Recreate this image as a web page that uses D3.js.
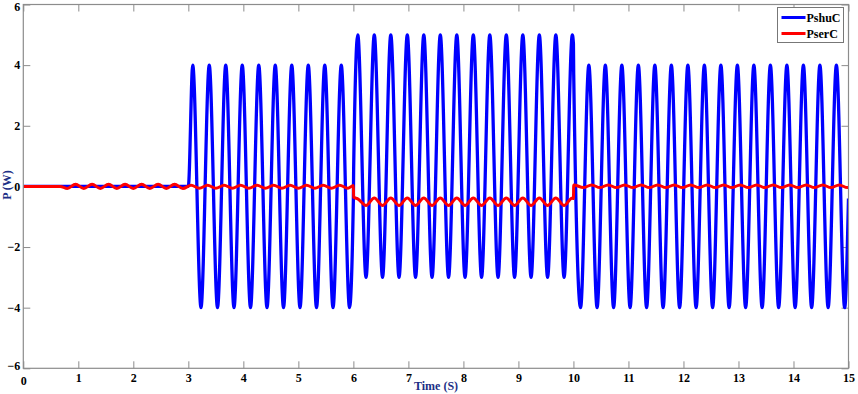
<!DOCTYPE html>
<html>
<head>
<meta charset="utf-8">
<script src="https://cdn.jsdelivr.net/npm/d3@7"></script>
<style>
body { margin: 0; background: #fff; }
svg text { font-family: "Liberation Serif", "Times New Roman", serif; font-weight: bold; }
</style>
</head>
<body>
<div class="chart-container"></div>
<script>
// sizes of the whole picture
const svgWidth = 858;
const svgHeight = 394;
const margin = { top: 4.5, right: 9.5, bottom: 25.7, left: 23.3 };
const width = svgWidth - margin.left - margin.right;
const height = svgHeight - margin.top - margin.bottom;

// series names and colours, in legend order
const seriesNames = ["PshuC", "PserC"];
const seriesColors = ["#0000ff", "#ff0000"];

// tick values of both axes
const xTicks = [0, 1, 2, 3, 4, 5, 6, 7, 8, 9, 10, 11, 12, 13, 14, 15];
const yTicks = [-6, -4, -2, 0, 2, 4, 6];

// PshuC: [time, value] at the start, each crest / trough and each step
const shuPoints = [
    [0, 0], [3, 0],
    [3.08, 4], [3.23, -4], [3.38, 4], [3.53, -4], [3.68, 4], [3.83, -4], [3.98, 4], [4.13, -4], [4.28, 4], [4.43, -4],
    [4.58, 4], [4.73, -4], [4.88, 4], [5.03, -4], [5.18, 4], [5.33, -4], [5.48, 4], [5.63, -4], [5.78, 4], [5.93, -4],
    [6, -0.4], [6.005, 0.6],
    [6.08, 5], [6.23, -3], [6.38, 5], [6.53, -3], [6.68, 5], [6.83, -3], [6.98, 5], [7.13, -3], [7.28, 5], [7.43, -3],
    [7.58, 5], [7.73, -3], [7.88, 5], [8.03, -3], [8.18, 5], [8.33, -3], [8.48, 5], [8.63, -3], [8.78, 5], [8.93, -3],
    [9.08, 5], [9.23, -3], [9.38, 5], [9.53, -3], [9.68, 5], [9.83, -3], [9.98, 5],
    [10, 4.7], [10.005, 3.7],
    [10.13, -4], [10.28, 4], [10.43, -4], [10.58, 4], [10.73, -4], [10.88, 4], [11.03, -4], [11.18, 4], [11.33, -4], [11.48, 4],
    [11.63, -4], [11.78, 4], [11.93, -4], [12.08, 4], [12.23, -4], [12.38, 4], [12.53, -4], [12.68, 4], [12.83, -4], [12.98, 4],
    [13.13, -4], [13.28, 4], [13.43, -4], [13.58, 4], [13.73, -4], [13.88, 4], [14.03, -4], [14.18, 4], [14.33, -4], [14.48, 4],
    [14.63, -4], [14.78, 4], [14.93, -4], [15, -0.4]
];

// PserC, same way
const serPoints = [
    [0, 0], [0.67, 0],
    [0.8, -0.07], [0.95, 0.07], [1.1, -0.07], [1.25, 0.07], [1.4, -0.07], [1.55, 0.07], [1.7, -0.07], [1.85, 0.07],
    [2, -0.07], [2.15, 0.07], [2.3, -0.07], [2.45, 0.07], [2.6, -0.07], [2.75, 0.07], [2.9, -0.07],
    [3.05, 0.04], [3.2, -0.06], [3.35, 0.04], [3.5, -0.06], [3.65, 0.04], [3.8, -0.06], [3.95, 0.04], [4.1, -0.06],
    [4.25, 0.04], [4.4, -0.06], [4.55, 0.04], [4.7, -0.06], [4.85, 0.04], [5, -0.06], [5.15, 0.04], [5.3, -0.06],
    [5.45, 0.04], [5.6, -0.06], [5.75, 0.04], [5.9, -0.06],
    [6, 0.03], [6.005, -0.36], [6.08, -0.41],
    [6.23, -0.63], [6.38, -0.38], [6.53, -0.63], [6.68, -0.38], [6.83, -0.63], [6.98, -0.38], [7.13, -0.63], [7.28, -0.38],
    [7.43, -0.63], [7.58, -0.38], [7.73, -0.63], [7.88, -0.38], [8.03, -0.63], [8.18, -0.38], [8.33, -0.63], [8.48, -0.38],
    [8.63, -0.63], [8.78, -0.38], [8.93, -0.63], [9.08, -0.38], [9.23, -0.63], [9.38, -0.38], [9.53, -0.63], [9.68, -0.38],
    [9.83, -0.63], [9.98, -0.38],
    [10, -0.4], [10.005, 0.05],
    [10.18, -0.04], [10.33, 0.05], [10.48, -0.04], [10.63, 0.05], [10.78, -0.04], [10.93, 0.05], [11.08, -0.04], [11.23, 0.05],
    [11.38, -0.04], [11.53, 0.05], [11.68, -0.04], [11.83, 0.05], [11.98, -0.04], [12.13, 0.05], [12.28, -0.04], [12.43, 0.05],
    [12.58, -0.04], [12.73, 0.05], [12.88, -0.04], [13.03, 0.05], [13.18, -0.04], [13.33, 0.05], [13.48, -0.04], [13.63, 0.05],
    [13.78, -0.04], [13.93, 0.05], [14.08, -0.04], [14.23, 0.05], [14.38, -0.04], [14.53, 0.05], [14.68, -0.04], [14.83, 0.05],
    [14.98, -0.04], [15, -0.03]
];

const allSeries = [shuPoints, serPoints];

const svg = d3.select(".chart-container")
    .append("svg")
    .attr("width", svgWidth)
    .attr("height", svgHeight);

const g = svg.append("g")
    .attr("transform", `translate(${margin.left},${margin.top})`);

// scales
const x = d3.scaleLinear()
    .domain([0, 15])
    .range([0, width]);

const y = d3.scaleLinear()
    .domain([-6, 6])
    .range([height, 0]);

// clip so the curves stay inside the box
g.append("clipPath")
    .attr("id", "plotClip")
    .append("rect")
    .attr("width", width)
    .attr("height", height);

// axes, ticks point inwards like matlab
const axisColor = "#8c8c8c";

const xAxis = g.append("g")
    .attr("transform", `translate(0,${height})`)
    .call(d3.axisBottom(x).tickValues(xTicks).tickSize(-7).tickPadding(5.5).tickFormat(d3.format("d")));

const xAxisTop = g.append("g")
    .call(d3.axisTop(x).tickValues(xTicks).tickSize(-7).tickFormat(""));

const yAxis = g.append("g")
    .call(d3.axisLeft(y).tickValues(yTicks).tickSize(-7).tickPadding(3).tickFormat(d3.format("d")));

const yAxisRight = g.append("g")
    .attr("transform", `translate(${width},0)`)
    .call(d3.axisRight(y).tickValues(yTicks).tickSize(-7).tickFormat(""));

[xAxis, xAxisTop, yAxis, yAxisRight].forEach(function (a) {
    a.select(".domain").remove();
    a.selectAll(".tick line").attr("stroke", axisColor);
    a.selectAll(".tick text")
        .attr("fill", "#000")
        .style("font-size", "12px")
        .style("font-family", "'Liberation Serif', serif")
        .style("font-weight", "bold");
});

// end labels nudged like the original: "6" a bit down, "-6" up, x "0" down
yAxis.selectAll(".tick text").filter(d => d === 6).attr("dy", "0.5em");
yAxis.selectAll(".tick text").filter(d => d === -6).attr("dy", "0.1em");
xAxis.selectAll(".tick text").filter(d => d === 0).attr("dy", "0.95em");

// the lines
const line = d3.line()
    .x(d => x(d[0]))
    .y(d => y(d[1]))
    .curve(d3.curveMonotoneX);

g.append("g")
    .attr("clip-path", "url(#plotClip)")
    .selectAll(".series")
    .data(allSeries)
    .enter()
    .append("path")
    .attr("class", "series")
    .attr("d", d => line(d))
    .attr("fill", "none")
    .attr("stroke", (d, i) => seriesColors[i])
    .attr("stroke-width", (d, i) => i === 0 ? 3.3 : 3)
    .attr("stroke-linejoin", "round");

// frame around the plot
g.append("rect")
    .attr("width", width)
    .attr("height", height)
    .attr("fill", "none")
    .attr("stroke", axisColor)
    .attr("stroke-width", 1.2);

// axis titles
svg.append("text")
    .text("Time (S)")
    .attr("x", 436)
    .attr("y", 390)
    .attr("text-anchor", "middle")
    .attr("fill", "#1c2f86")
    .style("font-size", "12px");

svg.append("text")
    .text("P (W)")
    .attr("transform", "translate(11,185) rotate(-90)")
    .attr("text-anchor", "middle")
    .attr("fill", "#1c2f86")
    .style("font-size", "12px");

// legend box in the top right corner
const legend = svg.append("g")
    .attr("transform", "translate(777.5,7.5)");

legend.append("rect")
    .attr("width", 66)
    .attr("height", 35)
    .attr("fill", "#fff")
    .attr("stroke", "#777")
    .attr("stroke-width", 1);

const legendItems = legend.selectAll(".legendItem")
    .data(seriesNames)
    .enter()
    .append("g")
    .attr("class", "legendItem")
    .attr("transform", (d, i) => `translate(0,${10 + i * 16})`);

legendItems.append("line")
    .attr("x1", 4)
    .attr("x2", 28)
    .attr("stroke", (d, i) => seriesColors[i])
    .attr("stroke-width", 3);

legendItems.append("text")
    .text(d => d)
    .attr("x", 29)
    .attr("y", 4)
    .attr("fill", "#000")
    .style("font-size", "12px");
</script>
</body>
</html>
